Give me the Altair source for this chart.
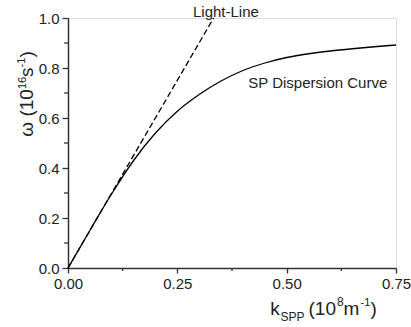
import altair as alt
import pandas as pd

# SP dispersion curve
sp_k = [0.0, 0.05, 0.10, 0.15, 0.20, 0.25, 0.30, 0.35, 0.40, 0.45, 0.50, 0.55, 0.60, 0.65, 0.70, 0.75]
sp_w = [0.0, 0.150, 0.297, 0.430, 0.540, 0.627, 0.694, 0.748, 0.790, 0.820, 0.842, 0.857, 0.868, 0.877, 0.885, 0.892]

# Light line
ll_k = [0.0, 0.333]
ll_w = [0.0, 1.0]

x_ticks = [0.0, 0.25, 0.50, 0.75]
y_ticks = [0.0, 0.2, 0.4, 0.6, 0.8, 1.0]
x_minor = [0.125, 0.375, 0.625]
y_minor = [0.1, 0.3, 0.5, 0.7, 0.9]

FONT = "Liberation Sans"
INK = "#222222"

xscale = alt.Scale(domain=[0, 0.75], nice=False, zero=False)
yscale = alt.Scale(domain=[0, 1.0], nice=False, zero=False)

sp_df = pd.DataFrame({"k": sp_k, "w": sp_w})
ll_df = pd.DataFrame({"k": ll_k, "w": ll_w})

xaxis = alt.Axis(values=x_ticks, format=".2f", title="", grid=False, labelFlush=False,
                 tickSize=5, tickWidth=1.3, tickColor="#333", domainColor="#333",
                 domainWidth=1.5, labelFont=FONT, labelFontSize=15, labelColor=INK,
                 labelPadding=3)
yaxis = alt.Axis(values=y_ticks, format=".1f", title="", grid=False, labelFlush=False,
                 tickSize=6, tickWidth=1.3, tickColor="#333", domainColor="#333",
                 domainWidth=1.5, labelFont=FONT, labelFontSize=15, labelColor=INK,
                 labelPadding=3)

sp = alt.Chart(sp_df).mark_line(color="black", strokeWidth=1.3, interpolate="monotone").encode(
    x=alt.X("k:Q", scale=xscale, axis=xaxis),
    y=alt.Y("w:Q", scale=yscale, axis=yaxis),
)

ll = alt.Chart(ll_df).mark_line(color="black", strokeWidth=1.3, strokeDash=[6, 3]).encode(
    x=alt.X("k:Q", scale=xscale, axis=xaxis),
    y=alt.Y("w:Q", scale=yscale, axis=yaxis),
)

xm = alt.Chart(pd.DataFrame({"k": x_minor})).mark_rule(color="#333", strokeWidth=1.3).encode(
    x=alt.X("k:Q", scale=xscale, axis=xaxis),
    y=alt.value(250), y2=alt.value(253),
)
ym = alt.Chart(pd.DataFrame({"w": y_minor})).mark_rule(color="#333", strokeWidth=1.3).encode(
    y=alt.Y("w:Q", scale=yscale, axis=yaxis),
    x=alt.value(0), x2=alt.value(-4),
)

one = pd.DataFrame({"a": [0]})


def txt(s, x, y, size, angle=0):
    kw = dict(text=s, font=FONT, fontSize=size, color=INK, align="left", baseline="alphabetic")
    if angle:
        kw["angle"] = angle
    return alt.Chart(one).mark_text(**kw).encode(x=alt.value(x), y=alt.value(y))


labels = [
    txt("Light-Line", 125, -1.3, 15),
    txt("SP Dispersion Curve", 180.3, 70.3, 15),
    # x title
    txt("k", 202.3, 296.5, 19),
    txt("SPP", 212.5, 303, 12),
    txt("(10", 240.5, 296.5, 19),
    txt("8", 269, 288, 12),
    txt("m", 275.5, 296.5, 19),
    txt("-1", 292.5, 288, 11),
    txt(")", 302.5, 296.5, 19),
    # y title (rotated)
    txt("\u03c9 (10", -34.7, 118.7, 19, 270),
    txt("16", -42.5, 71, 11, 270),
    txt("s", -34.7, 59, 19, 270),
    txt("-1", -43, 49.5, 11, 270),
    txt(")", -34.7, 39.5, 19, 270),
]

chart = alt.layer(sp, ll, xm, ym, *labels).properties(
    width=328, height=250,
    autosize=alt.AutoSizeParams(type="none"),
    padding={"left": 68, "top": 18, "right": 15, "bottom": 59},
).configure_view(strokeWidth=0).configure(background="white")

chart.save("out.html", embed_options={"renderer": "svg", "actions": False})
